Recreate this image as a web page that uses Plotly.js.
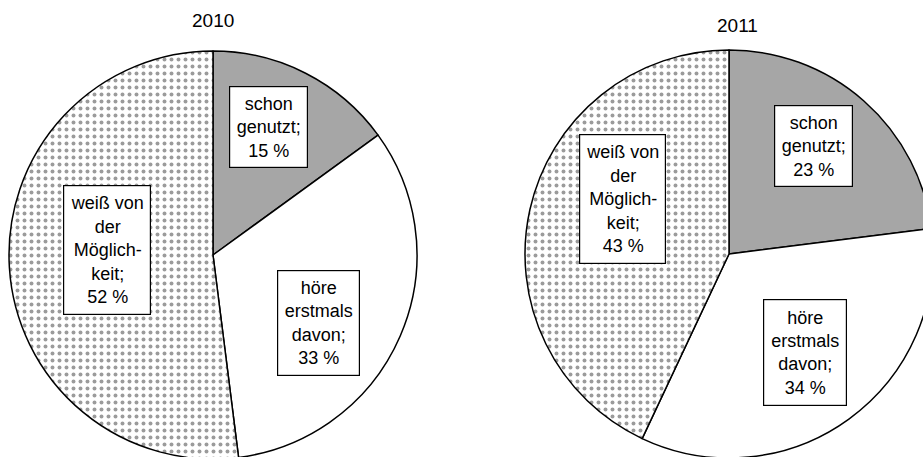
<!DOCTYPE html>
<html>
<head>
<meta charset="utf-8">
<script src="https://cdn.plot.ly/plotly-3.0.1.min.js"></script>
<style>
html,body{margin:0;padding:0;overflow:hidden;background:#fff;}
#chart{width:940px;height:460px;}
</style>
</head>
<body>
<div id="chart"></div>
<script>
// Data
const categories = ["schon genutzt", "höre erstmals davon", "weiß von der Möglichkeit"];
const values2010 = [15, 33, 52];
const values2011 = [23, 34, 43];
const years = ["2010", "2011"];
const labels2010 = ["schon<br>genutzt;<br>15 %", "höre<br>erstmals<br>davon;<br>33 %", "weiß von<br>der<br>Möglich-<br>keit;<br>52 %"];
const labels2011 = ["schon<br>genutzt;<br>23 %", "höre<br>erstmals<br>davon;<br>34 %", "weiß von<br>der<br>Möglich-<br>keit;<br>43 %"];

const W = 940, H = 460;
const px = x => x / W;
const py = y => 1 - y / H;

const fillColors = ["#a6a6a6", "#ffffff", "#ffffff"];
const pattern = {shape: ["", "", "."], fgcolor: "#383838", bgcolor: "#ffffff", size: 7, solidity: 0.25, fillmode: "overlay"};

function pie(values, dom) {
  return {
    type: "pie",
    labels: categories,
    values: values,
    sort: false,
    direction: "clockwise",
    rotation: 0,
    textinfo: "none",
    hoverinfo: "label+percent",
    showlegend: false,
    domain: dom,
    marker: {colors: fillColors, line: {color: "#000", width: 1.5}, pattern: pattern}
  };
}

const data = [
  pie(values2010, {x: [px(9), px(417)], y: [py(459), py(51)]}),
  pie(values2011, {x: [px(525), px(933)], y: [py(458), py(50)]})
];

const fam = "Liberation Sans, Arial, sans-serif";
const fontLbl = {family: fam, size: 18, color: "#000"};
const fontTtl = {family: fam, size: 19, color: "#000"};

function box(text, cx, cy, w, h) {
  return {
    text: text, xref: "paper", yref: "paper", x: px(cx), y: py(cy),
    xanchor: "center", yanchor: "middle", showarrow: false,
    font: fontLbl, align: "center", valign: "middle",
    bgcolor: "#fff", bordercolor: "#000", borderwidth: 1.2, borderpad: 1,
    width: w - 4, height: h - 4
  };
}

const annotations = [
  {text: years[0], xref: "paper", yref: "paper", x: px(213), y: py(21), xanchor: "center", yanchor: "middle", showarrow: false, font: fontTtl},
  {text: years[1], xref: "paper", yref: "paper", x: px(737), y: py(25), xanchor: "center", yanchor: "middle", showarrow: false, font: fontTtl},
  box(labels2010[0], 268, 127, 79, 82),
  box(labels2010[1], 318, 323, 83, 106),
  box(labels2010[2], 107, 250, 88, 130),
  box(labels2011[0], 813, 146, 79, 82),
  box(labels2011[1], 805, 352, 84, 107),
  box(labels2011[2], 622, 199, 87, 130)
];

const layout = {
  width: W, height: H,
  margin: {l: 0, r: 0, t: 0, b: 0},
  paper_bgcolor: "#fff",
  showlegend: false,
  annotations: annotations
};

Plotly.newPlot("chart", data, layout, {displayModeBar: false, staticPlot: true});
</script>
</body>
</html>
